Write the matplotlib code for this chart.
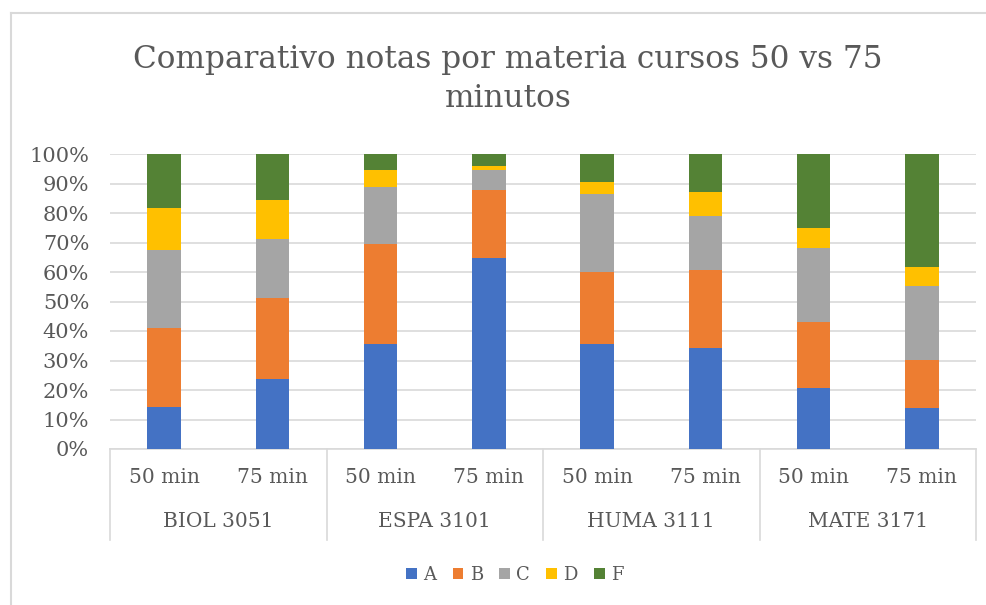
import matplotlib.pyplot as plt
import matplotlib.transforms as mtransforms
from matplotlib.lines import Line2D
from matplotlib.ticker import PercentFormatter

# Data (percent of students per grade)
subjects = ["BIOL 3051", "ESPA 3101", "HUMA 3111", "MATE 3171"]
durations = ["50 min", "75 min"]
grades = ["A", "B", "C", "D", "F"]

grade_a = [14.3, 23.8, 35.5, 64.7, 35.5, 34.1, 20.6, 13.8]
grade_b = [26.6, 27.3, 33.9, 23.1, 24.4, 26.6, 22.3, 16.3]
grade_c = [26.4, 20.2, 19.5, 6.7, 26.5, 18.2, 25.1, 25.1]
grade_d = [14.3, 13.0, 5.6, 1.4, 4.0, 8.1, 6.8, 6.6]
grade_f = [18.4, 15.7, 5.5, 4.1, 9.6, 13.0, 25.2, 38.2]

colors = ["#4472c4", "#ed7d31", "#a5a5a5", "#ffc000", "#548235"]
txt_col = "#595959"
grid_col = "#d9d9d9"
font = "DejaVu Serif"

W, H = 987, 605
fig = plt.figure(figsize=(W / 100, H / 100), dpi=100)

# chart-area border (only left and top edge visible in the screenshot)
fig.lines.append(Line2D([11 / W, 11 / W], [0, 1 - 13 / H], transform=fig.transFigure,
                        color=grid_col, lw=1.5))
fig.lines.append(Line2D([11 / W, 1], [1 - 13 / H, 1 - 13 / H], transform=fig.transFigure,
                        color=grid_col, lw=1.5))

ax = fig.add_axes([110 / W, 1 - 449 / H, 866 / W, 295 / H])

xs = list(range(len(grade_a)))
bottom = [0] * len(xs)
series = [grade_a, grade_b, grade_c, grade_d, grade_f]
for name, vals, col in zip(grades, series, colors):
    ax.bar(xs, vals, width=0.31, bottom=bottom, color=col, label=name, zorder=3)
    bottom = [b + v for b, v in zip(bottom, vals)]

ax.set_xlim(-0.5, len(xs) - 0.5)
ax.set_ylim(0, 100)
ax.set_yticks(range(0, 101, 10))
ax.yaxis.set_major_formatter(PercentFormatter(decimals=0))
ax.tick_params(axis="y", length=0, pad=15, labelsize=15, labelcolor=txt_col)
ax.set_xticks([])
for lbl in ax.get_yticklabels():
    lbl.set_fontfamily(font)
ax.grid(axis="y", color=grid_col, linewidth=1.2, zorder=0)
for s in ["top", "right", "left"]:
    ax.spines[s].set_visible(False)
ax.spines["bottom"].set_color(grid_col)
ax.spines["bottom"].set_linewidth(1.2)

# two-level category axis
trans = mtransforms.blended_transform_factory(ax.transData, ax.transAxes)
for k in range(len(subjects) + 1):
    ax.plot([2 * k - 0.5, 2 * k - 0.5], [0, -0.31], color=grid_col, lw=1.2,
            transform=trans, clip_on=False)
for i, x in enumerate(xs):
    ax.text(x, -0.098, durations[i % 2], transform=trans, ha="center",
            va="center", fontsize=14.5, color=txt_col, fontfamily=font)
for k, subj in enumerate(subjects):
    ax.text(2 * k + 0.5, -0.247, subj, transform=trans, ha="center",
            va="center", fontsize=14.5, color=txt_col, fontfamily=font)

fig.text(508 / W, 1 - 79 / H,
         "Comparativo notas por materia cursos 50 vs 75\nminutos",
         ha="center", va="center", fontsize=22.4, color=txt_col,
         fontfamily=font, linespacing=1.3)

leg = fig.legend(loc="center", bbox_to_anchor=(515 / W, 1 - 575 / H), ncol=5,
                 frameon=False, handlelength=0.6, handleheight=0.6,
                 handletextpad=0.35, columnspacing=0.9,
                 prop={"family": font, "size": 13})
for t in leg.get_texts():
    t.set_color(txt_col)

fig.savefig("out.png", dpi=100)
